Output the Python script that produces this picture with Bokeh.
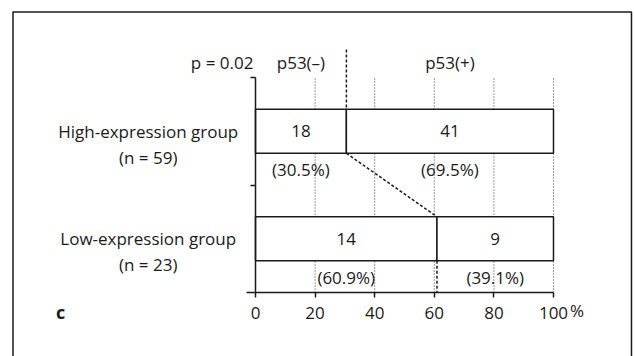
from bokeh.plotting import figure
from bokeh.models import LinearAxis, FixedTicker
from bokeh.core.properties import value
from bokeh.embed import file_html
from bokeh.resources import INLINE

# Data
groups = ["High-expression group", "Low-expression group"]
group_n = ["(n = 59)", "(n = 23)"]
neg_counts = [18, 14]
pos_counts = [41, 9]
neg_pct = [30.5, 60.9]
pos_pct = [69.5, 39.1]
x_ticks = [0, 20, 40, 60, 80, 100]
p_text = "p = 0.02"
panel_letter = "c"

FONT = "Open Sans"
FS = "17px"
INK = "#1a1a1a"

# group rows: high expression on top
y_center = [1.5, 0.5]
BAR_H = 0.41

p = figure(width=635, height=356, x_range=(-85.57, 127.52), y_range=(-0.595, 2.716),
           output_backend="svg", toolbar_location=None,
           min_border_left=0, min_border_right=0, min_border_top=0, min_border_bottom=0)
p.xaxis.visible = False
p.yaxis.visible = False
p.xgrid.visible = False
p.ygrid.visible = False
p.outline_line_color = None
p.background_fill_color = "white"

# panel frame (open at the bottom edge of the page)
p.quad(left=[-81.38], right=[126.17], top=[2.609], bottom=[-1.0],
       fill_color=None, line_color=INK, line_width=1.5)

# dotted reference lines at the percent ticks
grid_x = [t for t in x_ticks if t > 0]
p.segment(x0=grid_x, y0=[0] * len(grid_x), x1=grid_x, y1=[2] * len(grid_x),
          line_color="#333333", line_width=1, line_dash="1 2")

# stacked bars (white boxes)
left_neg = [0, 0]
right_neg = neg_pct
left_pos = neg_pct
right_pos = [a + b for a, b in zip(neg_pct, pos_pct)]
tops = [c + BAR_H / 2 for c in y_center]
bots = [c - BAR_H / 2 for c in y_center]
p.quad(left=left_neg, right=right_neg, top=tops, bottom=bots,
       fill_color="white", line_color=INK, line_width=1.5)
p.quad(left=left_pos, right=right_pos, top=tops, bottom=bots,
       fill_color="white", line_color=INK, line_width=1.5)

# dashed connector between the two split points
split_hi, split_lo = neg_pct[0], neg_pct[1]
p.segment(x0=[split_hi], y0=[2.26], x1=[split_hi], y1=[tops[0]],
          line_color=INK, line_width=1.5, line_dash="3 2")
p.segment(x0=[split_hi], y0=[bots[0]], x1=[split_lo], y1=[tops[1]],
          line_color=INK, line_width=1.5, line_dash="3 2")
p.segment(x0=[split_lo], y0=[bots[1]], x1=[split_lo], y1=[0],
          line_color=INK, line_width=1.5, line_dash="3 2")

# axes placed at data zero
xax = LinearAxis(fixed_location=0, bounds=(-3, 100), ticker=FixedTicker(ticks=x_ticks),
                 major_label_overrides={100: "100"})
xax.axis_line_color = INK
xax.axis_line_width = 1.5
xax.major_tick_line_color = INK
xax.major_tick_line_width = 1.5
xax.major_tick_out = 5
xax.major_tick_in = 0
xax.minor_tick_line_color = None
xax.major_label_text_font = FONT
xax.major_label_text_font_size = FS
xax.major_label_text_color = INK
xax.major_label_standoff = 9
p.add_layout(xax, "below")

yax = LinearAxis(fixed_location=0, bounds=(0, 2), ticker=FixedTicker(ticks=[1, 2]))
yax.axis_line_color = INK
yax.axis_line_width = 1.5
yax.major_tick_line_color = INK
yax.major_tick_line_width = 1.5
yax.major_tick_out = 5
yax.major_tick_in = 0
yax.minor_tick_line_color = None
yax.major_label_text_font_size = "0px"
yax.major_label_text_color = None
p.add_layout(yax, "left")

txt = dict(text_font=value(FONT), text_font_size=FS, text_color=INK,
           text_baseline="middle")

# counts inside the bars
cx = [(a + b) / 2 for a, b in zip(left_neg, right_neg)] + \
     [(a + b) / 2 for a, b in zip(left_pos, right_pos)]
cy = y_center + y_center
ct = [str(v) for v in neg_counts + pos_counts]
p.text(x=cx, y=cy, text=ct, text_align="center", **txt)

# percentages under the bars
pt = ["(%.1f%%)" % v for v in neg_pct + pos_pct]
p.text(x=cx, y=[c - 0.36 for c in cy], text=pt, text_align="center", **txt)

# group names and sizes
p.text(x=[-36, -36], y=y_center, text=groups, text_align="center", **txt)
p.text(x=[-36, -36], y=[c - 0.24 for c in y_center], text=group_n, text_align="center", **txt)

# header
p.text(x=[-0.7], y=[2.14], text=[p_text], text_align="right", **txt)
p.text(x=[(0 + split_hi) / 2, (split_hi + 100) / 2], y=[2.14, 2.14],
       text=["p53(\u2013)", "p53(+)"], text_align="center", **txt)

# unit after the last tick
p.text(x=[105.5], y=[-0.165], text=["%"], text_align="left", **txt)

# panel letter
p.text(x=[-65.4], y=[-0.18], text=[panel_letter], text_align="center",
       text_font=value(FONT), text_font_size="18px", text_font_style="bold",
       text_color=INK, text_baseline="middle")

open("out.html", "w").write(file_html(p, INLINE))
